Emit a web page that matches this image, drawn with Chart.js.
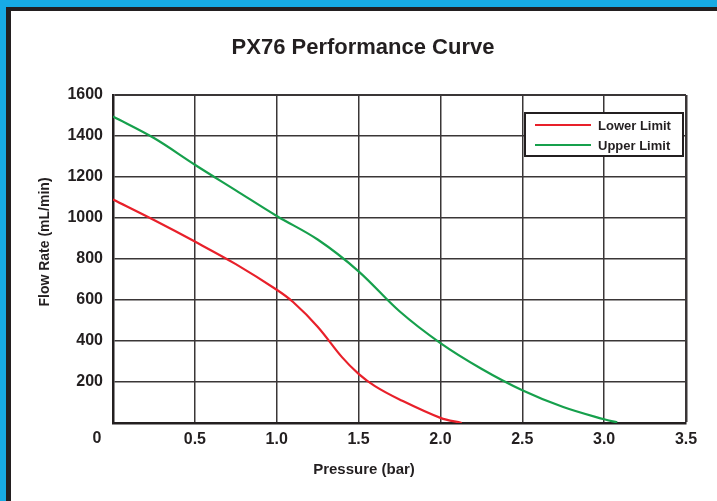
<!DOCTYPE html>
<html>
<head>
<meta charset="utf-8">
<title>PX76 Performance Curve</title>
<script src="https://cdn.jsdelivr.net/npm/chart.js@4"></script>
<style>
  body { margin: 0; background: #17abe5; width: 717px; height: 501px; overflow: hidden; position: relative; }
  .panel { position: absolute; left: 6px; top: 7px; right: 0; bottom: 0; background: #fff;
           border-left: 5px solid #231f20; border-top: 4px solid #231f20; }
  #chart { position: absolute; left: 0; top: 0; }
</style>
</head>
<body>
<div class="panel"></div>
<canvas id="chart" width="717" height="501"></canvas>
<script>
// values
const lowerPressure = [0, 0.25, 0.5, 0.75, 1.0, 1.1, 1.25, 1.4, 1.5, 1.6, 1.75, 2.0, 2.13];
const lowerFlow     = [1090, 990, 885, 775, 650, 590, 470, 320, 240, 180, 115, 25, 0];

const upperPressure = [0, 0.25, 0.5, 0.75, 1.0, 1.25, 1.5, 1.75, 2.0, 2.25, 2.5, 2.75, 3.0, 3.08];
const upperFlow     = [1495, 1390, 1260, 1135, 1010, 895, 740, 545, 390, 265, 160, 78, 18, 3];

const seriesNames = ["Lower Limit", "Upper Limit"];
const xTickValues = [0, 0.5, 1.0, 1.5, 2.0, 2.5, 3.0, 3.5];
const yTickValues = [0, 200, 400, 600, 800, 1000, 1200, 1400, 1600];

const titleText = "PX76 Performance Curve";
const xTitle = "Pressure (bar)";
const yTitle = "Flow Rate (mL/min)";

const ink = "#231f20";
const gridColor = "#3a3637";
const redColor = "#e8202a";
const greenColor = "#16a04c";
const fontFamily = '"Liberation Sans", Arial, sans-serif';

const toPoints = (xs, ys) => xs.map((x, i) => ({ x: x, y: ys[i] }));

// title, axis titles, shared "0" corner label and the boxed legend
const extras = {
  id: "extras",
  afterDraw(chart) {
    const { ctx, scales } = chart;
    ctx.save();
    ctx.fillStyle = ink;
    ctx.textAlign = "center";
    ctx.textBaseline = "middle";

    ctx.font = "bold 22px " + fontFamily;
    ctx.fillText(titleText, 363, 48);

    ctx.font = "bold 15px " + fontFamily;
    ctx.fillText(xTitle, 364, 470);

    ctx.save();
    ctx.translate(45, 242);
    ctx.rotate(-Math.PI / 2);
    ctx.font = "bold 14px " + fontFamily;
    ctx.fillText(yTitle, 0, 0);
    ctx.restore();

    ctx.font = "bold 16px " + fontFamily;
    ctx.fillText("0", scales.x.getPixelForValue(0) - 16, 439);

    // legend box
    const bx = 525, by = 113, bw = 158, bh = 43;
    ctx.fillStyle = "#fff";
    ctx.fillRect(bx, by, bw, bh);
    ctx.strokeStyle = ink;
    ctx.lineWidth = 2;
    ctx.strokeRect(bx, by, bw, bh);
    ctx.font = "bold 13px " + fontFamily;
    ctx.textAlign = "left";
    chart.data.datasets.forEach((ds, i) => {
      const ly = by + 12 + i * 20;
      ctx.strokeStyle = ds.borderColor;
      ctx.lineWidth = 2;
      ctx.beginPath();
      ctx.moveTo(bx + 10, ly);
      ctx.lineTo(bx + 66, ly);
      ctx.stroke();
      ctx.fillStyle = ink;
      ctx.fillText(ds.label, bx + 73, ly + 1);
    });
    ctx.restore();
  }
};

const chart = new Chart(document.getElementById("chart"), {
  type: "line",
  data: {
    datasets: [
      {
        label: seriesNames[0],
        data: toPoints(lowerPressure, lowerFlow),
        borderColor: redColor,
        borderWidth: 2.2,
        pointRadius: 0,
        tension: 0.35,
        fill: false
      },
      {
        label: seriesNames[1],
        data: toPoints(upperPressure, upperFlow),
        borderColor: greenColor,
        borderWidth: 2.2,
        pointRadius: 0,
        tension: 0.35,
        fill: false
      }
    ]
  },
  options: {
    responsive: false,
    animation: false,
    events: [],
    layout: { padding: { left: 0, right: 31, top: 95, bottom: 0 } },
    plugins: {
      legend: { display: false },
      title: { display: false },
      tooltip: { enabled: false }
    },
    scales: {
      x: {
        type: "linear",
        min: 0,
        max: 3.5,
        afterBuildTicks: (scale) => { scale.ticks = xTickValues.map(v => ({ value: v })); },
        afterFit: (scale) => { scale.height = 78; },
        ticks: {
          padding: 7,
          color: ink,
          font: { family: fontFamily, size: 16, weight: "bold" },
          callback: (v) => (v === 0 ? "" : v.toFixed(1))
        },
        grid: {
          drawTicks: false,
          color: gridColor,
          lineWidth: (c) => (c.tick && c.tick.value === 3.5 ? 2.5 : 1.5)
        },
        border: { display: true, color: ink, width: 2.5 }
      },
      y: {
        min: 0,
        max: 1600,
        afterBuildTicks: (scale) => { scale.ticks = yTickValues.map(v => ({ value: v })); },
        afterFit: (scale) => { scale.width = 113; },
        ticks: {
          padding: 10,
          color: ink,
          font: { family: fontFamily, size: 16, weight: "bold" },
          callback: (v) => (v === 0 ? "" : String(v))
        },
        grid: {
          drawTicks: false,
          color: gridColor,
          lineWidth: (c) => (c.tick && c.tick.value === 1600 ? 2 : 1.5)
        },
        border: { display: true, color: ink, width: 2.5 }
      }
    }
  },
  plugins: [extras]
});
</script>
</body>
</html>
